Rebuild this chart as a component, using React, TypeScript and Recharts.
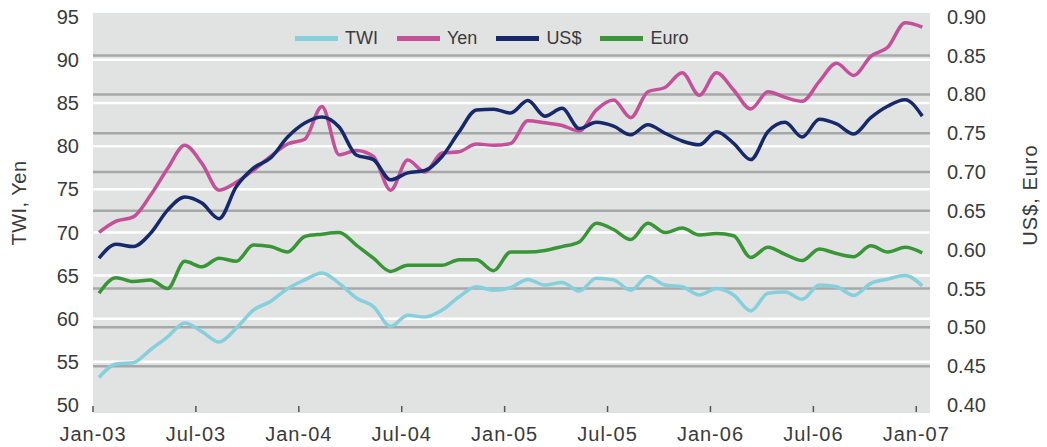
import React from 'react';
import { LineChart, Line, XAxis, YAxis, CartesianGrid, ReferenceLine, Legend } from 'recharts';

// Month-end observations, Jan-03 .. Jan-07 (49 months)
const monthCount = 49;
const obsOffset = 0.35; // observation point within the month

const twi = [53.2, 54.75, 54.9, 56.4, 57.9, 59.5, 58.5, 57.3, 58.9, 61.0, 62.0, 63.5, 64.5, 65.3, 64.1, 62.4, 61.4, 59.1, 60.4, 60.2, 61.0, 62.55, 63.7, 63.3, 63.6, 64.55, 63.9, 64.2, 63.2, 64.7, 64.5, 63.3, 64.9, 63.9, 63.7, 62.75, 63.5, 62.75, 60.9, 62.95, 63.1, 62.25, 63.9, 63.7, 62.7, 64.1, 64.6, 65.0, 63.8];
const yen = [70.0, 71.3, 71.8, 74.3, 77.4, 80.1, 78.0, 74.9, 75.8, 77.2, 78.8, 80.25, 80.8, 84.6, 79.0, 79.5, 78.8, 74.9, 78.4, 77.0, 79.2, 79.35, 80.25, 80.1, 80.3, 82.95, 82.7, 82.4, 81.75, 84.2, 85.35, 83.3, 86.3, 86.8, 88.5, 85.9, 88.5, 86.5, 84.3, 86.3, 85.65, 85.2, 87.5, 89.6, 88.2, 90.4, 91.5, 94.3, 93.8];
const usd = [0.589, 0.607, 0.604, 0.621, 0.651, 0.668, 0.660, 0.640, 0.681, 0.705, 0.718, 0.745, 0.763, 0.771, 0.758, 0.722, 0.716, 0.690, 0.699, 0.702, 0.720, 0.752, 0.780, 0.781, 0.776, 0.792, 0.772, 0.782, 0.756, 0.764, 0.759, 0.748, 0.761, 0.750, 0.740, 0.735, 0.752, 0.737, 0.716, 0.752, 0.764, 0.745, 0.768, 0.762, 0.749, 0.770, 0.785, 0.793, 0.772];
const euro = [0.544, 0.564, 0.559, 0.561, 0.550, 0.585, 0.578, 0.589, 0.585, 0.606, 0.604, 0.597, 0.617, 0.620, 0.622, 0.606, 0.589, 0.572, 0.580, 0.580, 0.580, 0.587, 0.587, 0.573, 0.597, 0.597, 0.599, 0.604, 0.610, 0.634, 0.626, 0.613, 0.634, 0.622, 0.628, 0.619, 0.621, 0.618, 0.590, 0.603, 0.594, 0.586, 0.601, 0.595, 0.591, 0.605, 0.597, 0.603, 0.596];

const xTickMonths = [0, 6, 12, 18, 24, 30, 36, 42, 48];
const xTickLabels = ['Jan-03', 'Jul-03', 'Jan-04', 'Jul-04', 'Jan-05', 'Jul-05', 'Jan-06', 'Jul-06', 'Jan-07'];
const leftTicks = [50, 55, 60, 65, 70, 75, 80, 85, 90, 95];
const rightTicks = [0.4, 0.45, 0.5, 0.55, 0.6, 0.65, 0.7, 0.75, 0.8, 0.85, 0.9];
const leftGrid = [55, 60, 65, 70, 75, 80, 85, 90];
const rightGrid = [0.45, 0.5, 0.55, 0.65, 0.7, 0.75, 0.8, 0.85];
const seriesOrder = ['TWI', 'Yen', 'US$', 'Euro'];

const COLORS = { twi: '#86cfdd', yen: '#c4509a', usd: '#15296b', euro: '#389636' };
const FONT = '"Liberation Sans", Arial, sans-serif';
const TEXT = '#3a3a3a';

const data = Array.from({ length: monthCount }, (_, i) => ({
  t: i + obsOffset,
  twi: twi[i],
  yen: yen[i],
  usd: usd[i],
  euro: euro[i],
}));

const XTick = (props: any) => {
  const { x, y, payload } = props;
  const idx = xTickMonths.indexOf(payload.value);
  return (
    <g>
      <line x1={x} x2={x} y1={y - 21} y2={y - 15} stroke="#555" strokeWidth={1.5} />
      <text x={x} y={y} dy="0.71em" textAnchor="middle" fill={TEXT} fontSize={20} fontFamily={FONT} letterSpacing={1}>
        {idx >= 0 ? xTickLabels[idx] : ''}
      </text>
    </g>
  );
};

const renderLegend = (props: any) => {
  const items = [...(props.payload || [])].sort(
    (a: any, b: any) => seriesOrder.indexOf(a.value) - seriesOrder.indexOf(b.value)
  );
  return (
    <div style={{ display: 'flex', alignItems: 'center', fontFamily: FONT, fontSize: 18, color: TEXT, lineHeight: '20px', whiteSpace: 'nowrap' }}>
      {items.map((p: any) => (
        <div key={p.value} style={{ display: 'flex', alignItems: 'center', marginRight: 19 }}>
          <span style={{ display: 'inline-block', width: 43, height: 5, background: p.color, marginRight: 7 }} />
          <span>{p.value}</span>
        </div>
      ))}
    </div>
  );
};

const LeftLabel = (props: any) => {
  const vb = props.viewBox;
  const cx = vb.x + 19;
  const cy = 203;
  return (
    <text x={cx} y={cy} textAnchor="middle" dominantBaseline="central" transform={`rotate(-90, ${cx}, ${cy})`} fill={TEXT} fontSize={20} fontFamily={FONT} letterSpacing={0.5}>
      TWI, Yen
    </text>
  );
};

const RightLabel = (props: any) => {
  const vb = props.viewBox;
  const cx = vb.x + 100;
  const cy = 195;
  return (
    <text x={cx} y={cy} textAnchor="middle" dominantBaseline="central" transform={`rotate(-90, ${cx}, ${cy})`} fill={TEXT} fontSize={20} fontFamily={FONT} letterSpacing={1}>
      US$, Euro
    </text>
  );
};

export default function App() {
  return (
    <div style={{ position: 'absolute', left: 0, top: 0, width: 1047, height: 447, background: '#fff' }}>
      <LineChart width={1047} height={447} data={data} margin={{ top: 13, right: 0, bottom: 0, left: 0 }}>
        <CartesianGrid yAxisId="left" horizontal={false} vertical={false} fill="#e1e2e2" stroke="none" />
        <XAxis
          dataKey="t"
          type="number"
          domain={[0, 48.8]}
          ticks={xTickMonths}
          allowDataOverflow
          axisLine={false}
          tickLine={false}
          tickSize={6}
          tickMargin={8}
          tick={<XTick />}
          interval={0}
          height={34}
        />
        <YAxis
          yAxisId="left"
          orientation="left"
          width={93}
          domain={[49.07, 95.43]}
          ticks={leftTicks}
          allowDataOverflow
          axisLine={false}
          tickLine={false}
          tickSize={6}
          tickMargin={8}
          interval={0}
          tick={{ fill: TEXT, fontSize: 20, fontFamily: FONT }}
          label={<LeftLabel />}
        />
        <YAxis
          yAxisId="right"
          orientation="right"
          width={117}
          domain={[0.3897, 0.9048]}
          ticks={rightTicks}
          allowDataOverflow
          axisLine={false}
          tickLine={false}
          tickSize={6}
          tickMargin={11}
          interval={0}
          tickFormatter={(v: number) => v.toFixed(2)}
          tick={{ fill: TEXT, fontSize: 20, fontFamily: FONT }}
          label={<RightLabel />}
        />
        {leftGrid.map((v) => (
          <ReferenceLine key={`l${v}`} yAxisId="left" y={v} stroke="#ffffff" strokeWidth={2.5} />
        ))}
        {rightGrid.map((v) => (
          <ReferenceLine key={`r${v}`} yAxisId="right" y={v} stroke="#a7a8a8" strokeWidth={2.5} />
        ))}
        <Legend
          content={renderLegend}
          layout="horizontal"
          verticalAlign="middle"
          align="center"
          wrapperStyle={{ position: 'absolute', left: 295, top: 28, width: 'auto', height: 20 }}
        />
        <Line yAxisId="left" name="TWI" dataKey="twi" type="monotone" stroke={COLORS.twi} strokeWidth={3.5} dot={false} activeDot={false} isAnimationActive={false} />
        <Line yAxisId="left" name="Yen" dataKey="yen" type="monotone" stroke={COLORS.yen} strokeWidth={3.5} dot={false} activeDot={false} isAnimationActive={false} />
        <Line yAxisId="right" name="US$" dataKey="usd" type="monotone" stroke={COLORS.usd} strokeWidth={3.5} dot={false} activeDot={false} isAnimationActive={false} />
        <Line yAxisId="right" name="Euro" dataKey="euro" type="monotone" stroke={COLORS.euro} strokeWidth={3.5} dot={false} activeDot={false} isAnimationActive={false} />
      </LineChart>
    </div>
  );
}
